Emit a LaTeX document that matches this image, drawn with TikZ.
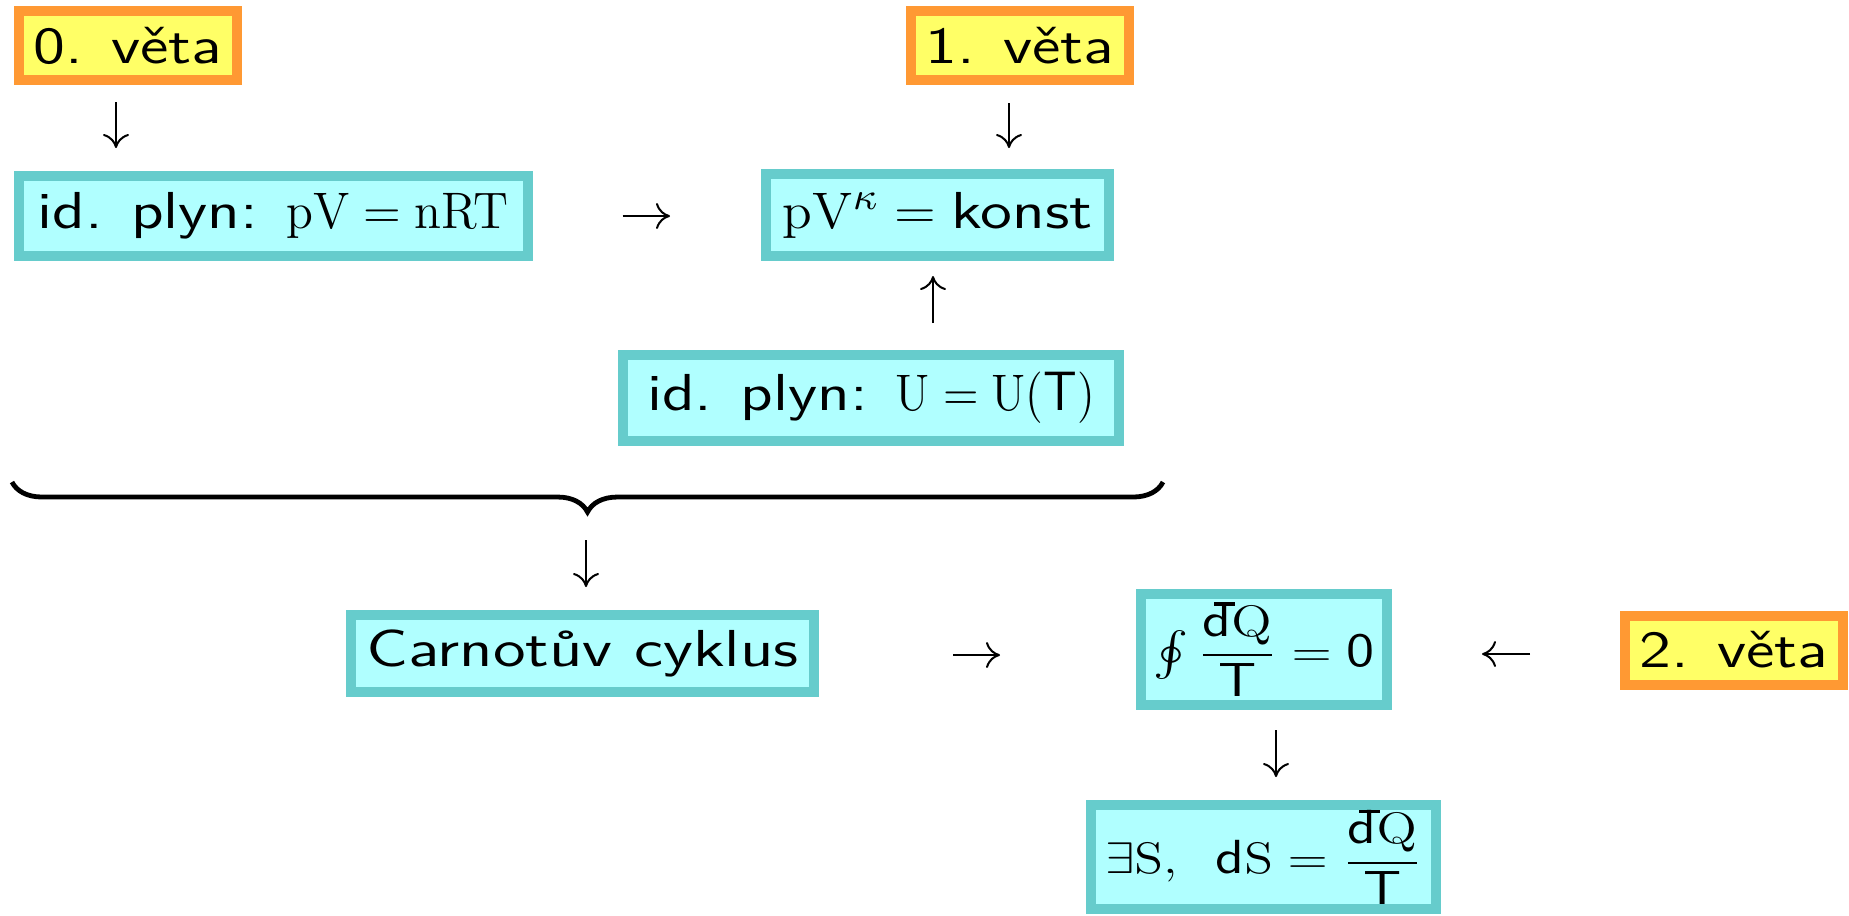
\documentclass[tikz,border=0pt]{standalone}
\usepackage{amsmath}
\usepackage{graphicx}
\usetikzlibrary{arrows.meta,decorations.pathreplacing}
\definecolor{boxf}{HTML}{B0FFFF}
\definecolor{boxd}{HTML}{66CCCC}
\definecolor{thf}{HTML}{FFFF66}
\definecolor{thd}{HTML}{FF9933}
\newcommand\tx[1]{\scalebox{1.25}[1]{#1}}
\newcommand\mx[2]{\scalebox{#1}[1.07]{#2}}
\newcommand\mr[1]{\mathrm{#1}}
\newcommand\dbarx{\text{\sffamily\makebox[0pt][l]{\hspace{0.2em}\rule[0.64em]{0.36em}{0.07em}}d}}
\tikzset{
  bx/.style={draw=boxd, fill=boxf, line width=2.5pt, inner sep=0pt,
    font=\sffamily\fontsize{13}{15.6}\selectfont},
  th/.style={bx, draw=thd, fill=thf, minimum width=54.5pt, minimum height=17.25pt},
  arr/.style={line width=0.5pt, -{Computer Modern Rightarrow[length=3.5pt,width=6.5pt]}},
  brc/.style={line width=1.2pt, decorate, decoration={brace, mirror, amplitude=7.5pt}}
}
\begin{document}
\begin{tikzpicture}[x=0.25pt,y=-0.25pt]
\useasboundingbox (0,0) rectangle (1849,915);
% nodes
\node[th] (v0) at (128,45.5) {\tx{0. věta}};
\node[th] (v1) at (1020,45.5) {\tx{1. věta}};
\node[th] (v2) at (1734,650) {\tx{2. věta}};
\node[bx, minimum width=127.25pt, minimum height=20pt] (ig) at (273,216) {\tx{id. plyn: }\mx{1.03}{$\mr{p}\mr{V} = \mr{n}\mr{R}\mr{T}$}};
\node[bx, minimum width=85.75pt, minimum height=20.5pt] (pk) at (937.5,215) {\mx{1.14}{$\mr{p}\mr{V}^{\kappa} = {}$}\tx{konst}};
\node[bx, minimum width=124pt, minimum height=21.5pt] (iu) at (871,398) {\tx{id. plyn: }\mx{0.97}{$\mr{U} = \mr{U}(\text{T})$}};
\node[bx, minimum width=115.75pt, minimum height=19.25pt] (ca) at (582.5,653.5) {\scalebox{1.28}[1]{Carnotův cyklus}};
\node[bx, minimum width=61.5pt, minimum height=27.75pt] (oi) at (1264,649.5) {\scalebox{1.1}[0.92]{$\oint\dfrac{\dbarx \mr{Q}}{\text{T}} = \text{0}$}};
\node[bx, minimum width=86.25pt, minimum height=26pt] (es) at (1263.5,857) {\scalebox{1.1}[0.92]{$\exists \mr{S},\;\; \text{d}\mr{S} = \dfrac{\dbarx \mr{Q}}{\text{T}}$}};
% brace
\coordinate (bl) at (12,482);
\coordinate (br) at (1163,482);
\coordinate (bt) at (586,512);
\draw[brc] (bl) -- (br);
% arrow x positions
\coordinate (c1) at (116,0);
\coordinate (c2) at (1009,0);
\coordinate (c4) at (933,0);
\coordinate (c8) at (1276,0);
\coordinate (r3) at (0,216);
\coordinate (r6) at (0,655);
\coordinate (r7) at (0,654);
% arrows
\draw[arr, shorten <=4.25pt, shorten >=5.75pt] (v0.south -| c1) -- (ig.north -| c1);
\draw[arr, shorten <=4.5pt, shorten >=5.25pt] (v1.south -| c2) -- (pk.north -| c2);
\draw[arr, shorten <=22.5pt, shorten >=22.75pt] (ig.east |- r3) -- (pk.west |- r3);
\draw[arr, shorten <=6.75pt, shorten >=3.75pt] (iu.north -| c4) -- (pk.south -| c4);
\draw[arr, shorten <=7pt, shorten >=5.75pt] (bt) -- (ca.north -| bt);
\draw[arr, shorten <=33.5pt, shorten >=34pt] (ca.east |- r6) -- (oi.west |- r6);
\draw[arr, shorten <=22.5pt, shorten >=22.5pt] (v2.west |- r7) -- (oi.east |- r7);
\draw[arr, shorten <=5pt, shorten >=5.75pt] (oi.south -| c8) -- (es.north -| c8);
\end{tikzpicture}
\end{document}
